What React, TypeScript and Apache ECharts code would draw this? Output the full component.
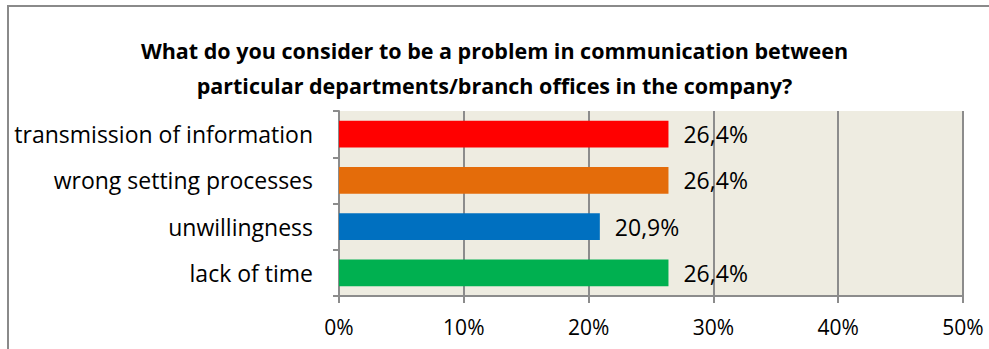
import React, { useEffect, useRef } from "react";
import * as echarts from "echarts";

const titleLines = [
  "What do you consider to be a problem in communication between",
  "particular departments/branch offices in the company?",
];
const categories = [
  "transmission of information",
  "wrong setting processes",
  "unwillingness",
  "lack of time",
];
const values = [26.4, 26.4, 20.9, 26.4];
const barColors = ["#FF0000", "#E46C0A", "#0070C0", "#00B050"];
const xTicks = [0, 10, 20, 30, 40, 50];

const FONT = "'Open Sans', 'Noto Sans', sans-serif";

export default function App() {
  const ref = useRef<HTMLDivElement>(null);
  useEffect(() => {
    if (!ref.current) return;
    const chart = echarts.init(ref.current, null, { renderer: "svg" });
    chart.setOption({
      animation: false,
      backgroundColor: "#ffffff",
      title: {
        text: titleLines.join("\n"),
        left: "center",
        top: 28,
        textStyle: {
          fontFamily: FONT,
          fontWeight: "bold",
          fontSize: 21.5,
          lineHeight: 35,
          color: "#000000",
        },
      },
      graphic: [
        {
          type: "rect",
          shape: { x: 8, y: 6, width: 1100, height: 500 },
          style: { fill: "none", stroke: "#8a8a8a", lineWidth: 2 },
          silent: true,
          z: 10,
        },
      ],
      grid: {
        left: 339,
        right: 26,
        top: 111,
        bottom: 53,
        show: true,
        backgroundColor: "#EEECE1",
        borderWidth: 0,
      },
      xAxis: {
        type: "value",
        min: xTicks[0],
        max: xTicks[xTicks.length - 1],
        interval: 10,
        axisLine: { show: true, lineStyle: { color: "#8c8c8c", width: 2 } },
        axisTick: { show: true, length: 7, lineStyle: { color: "#8c8c8c", width: 2 } },
        splitLine: { show: true, lineStyle: { color: "#8c8c8c", width: 2 } },
        axisLabel: {
          formatter: "{value}%",
          fontFamily: FONT,
          fontSize: 21,
          color: "#000000",
          margin: 20,
        },
      },
      yAxis: {
        type: "category",
        data: categories,
        inverse: true,
        axisLine: { show: true, lineStyle: { color: "#8c8c8c", width: 2 } },
        axisTick: { show: true, length: 6, lineStyle: { color: "#8c8c8c", width: 2 } },
        axisLabel: {
          fontFamily: FONT,
          fontSize: 23,
          color: "#000000",
          margin: 26,
        },
      },
      series: [
        {
          type: "bar",
          data: values.map((v, i) => ({ value: v, itemStyle: { color: barColors[i] } })),
          barCategoryGap: "42%",
          label: {
            show: true,
            position: "right",
            distance: 15,
            fontFamily: FONT,
            fontSize: 23,
            color: "#000000",
            formatter: (p: any) => p.value.toFixed(1).replace(".", ",") + "%",
          },
        },
      ],
    });
    return () => chart.dispose();
  }, []);
  return (
    <div
      ref={ref}
      style={{ position: "fixed", left: 0, top: 0, width: 989, height: 349 }}
    />
  );
}
